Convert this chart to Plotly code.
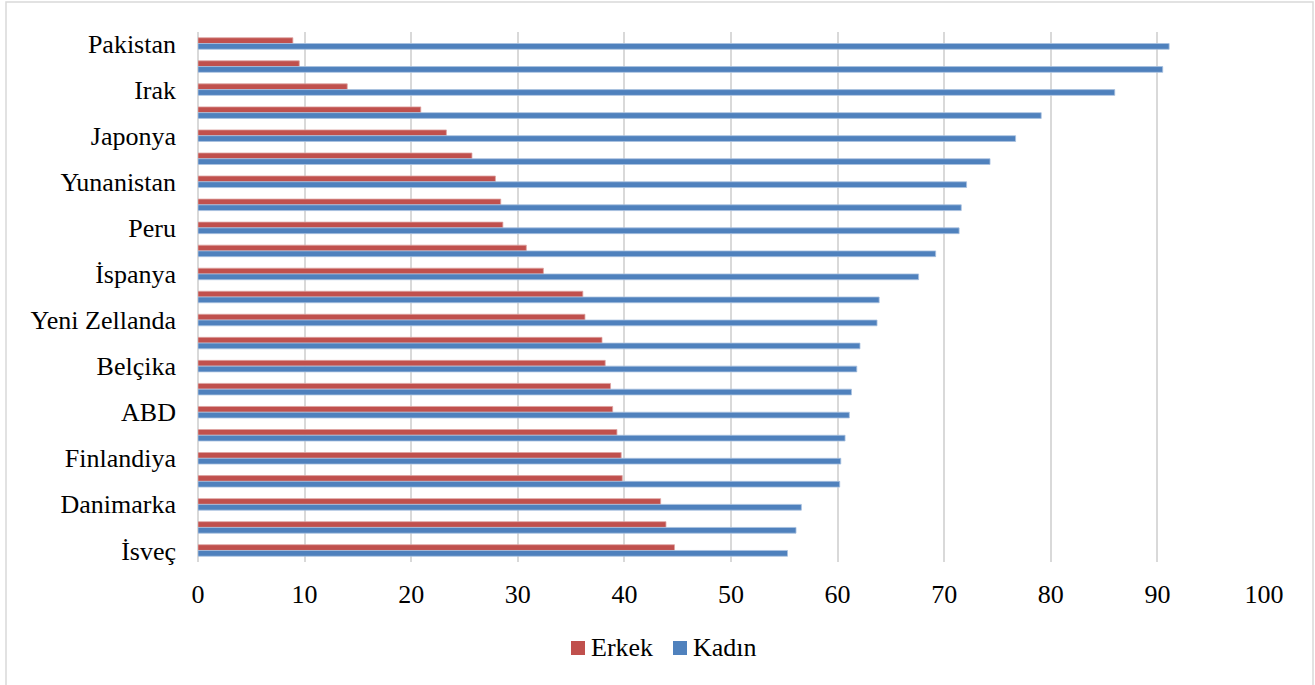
import plotly.graph_objects as go

# Row labels (every second row carries a name), top to bottom
etiketler = ["Pakistan", "", "Irak", "", "Japonya", "", "Yunanistan", "", "Peru", "",
             "İspanya", "", "Yeni Zellanda", "", "Belçika", "", "ABD", "", "Finlandiya", "",
             "Danimarka", "", "İsveç"]

# Shares (%) for each row
erkek = [8.9, 9.5, 14.0, 20.9, 23.3, 25.7, 27.9, 28.4, 28.6, 30.8, 32.4, 36.1,
         36.3, 37.9, 38.2, 38.7, 38.9, 39.3, 39.7, 39.8, 43.4, 43.9, 44.7]
kadin = [91.1, 90.5, 86.0, 79.1, 76.7, 74.3, 72.1, 71.6, 71.4, 69.2, 67.6, 63.9,
         63.7, 62.1, 61.8, 61.3, 61.1, 60.7, 60.3, 60.2, 56.6, 56.1, 55.3]

seri_adlari = ["Erkek", "Kadın"]
x_ticks = [0, 10, 20, 30, 40, 50, 60, 70, 80, 90, 100]

satirlar = list(range(len(etiketler)))

W, H = 1315, 685
ML, MR, MT, MB = 198, 51, 32, 123
PW, PH = W - ML - MR, H - MT - MB

FONT = "Liberation Serif, Times New Roman, serif"
RENKLER = ["#C0504D", "#4F81BD"]
KENARLAR = ["#DDA3A1", "#A9C1DF"]

fig = go.Figure()
for ad, degerler, renk, kenar in zip(seri_adlari, [erkek, kadin], RENKLER, KENARLAR):
    fig.add_trace(go.Bar(
        name=ad, y=satirlar, x=degerler, orientation="h",
        marker=dict(color=renk, line=dict(color=kenar, width=0.8)),
        showlegend=False,
    ))


def px_x(px):
    return (px - ML) / PW


def px_y(py):
    return (H - MB - py) / PH


# light frame around the whole chart
fig.add_shape(type="rect", xref="paper", yref="paper",
              x0=px_x(6), x1=px_x(1313), y0=px_y(690), y1=px_y(2),
              line=dict(color="#D9D9D9", width=1.5), fillcolor="rgba(0,0,0,0)",
              layer="below")

# legend row below the axis: coloured square + series name
legend_x = [571, 673]
for ad, renk, lx in zip(seri_adlari, RENKLER, legend_x):
    fig.add_shape(type="rect", xref="paper", yref="paper",
                  x0=px_x(lx), x1=px_x(lx + 14), y0=px_y(655), y1=px_y(641),
                  line=dict(width=0), fillcolor=renk)
    fig.add_annotation(xref="paper", yref="paper", x=px_x(lx + 18), y=px_y(647.5),
                       xanchor="left", yanchor="middle", showarrow=False,
                       text=ad, font=dict(family=FONT, size=26, color="#000000"))

fig.update_layout(
    width=W, height=H,
    margin=dict(l=ML, r=MR, t=MT, b=MB, autoexpand=False),
    paper_bgcolor="white", plot_bgcolor="white",
    barmode="group", bargap=0.5, bargroupgap=0,
    font=dict(family=FONT, size=26, color="#000000"),
    showlegend=False,
)

fig.update_xaxes(
    range=[0, 100], tickvals=x_ticks, ticktext=[str(v) for v in x_ticks],
    showgrid=True, gridcolor="#D9D9D9", gridwidth=1.5,
    zeroline=True, zerolinecolor="#D9D9D9", zerolinewidth=1.5,
    showline=False, ticks="", ticklabelstandoff=14, automargin=False,
    tickfont=dict(family=FONT, size=26, color="#000000"),
)
fig.update_yaxes(
    range=[len(etiketler) - 0.5, -0.5], tickvals=satirlar, ticktext=etiketler,
    showgrid=False, zeroline=False, showline=False, ticks="",
    ticklabelstandoff=21, automargin=False,
    tickfont=dict(family=FONT, size=26, color="#000000"),
)

fig.write_html("out.html")
